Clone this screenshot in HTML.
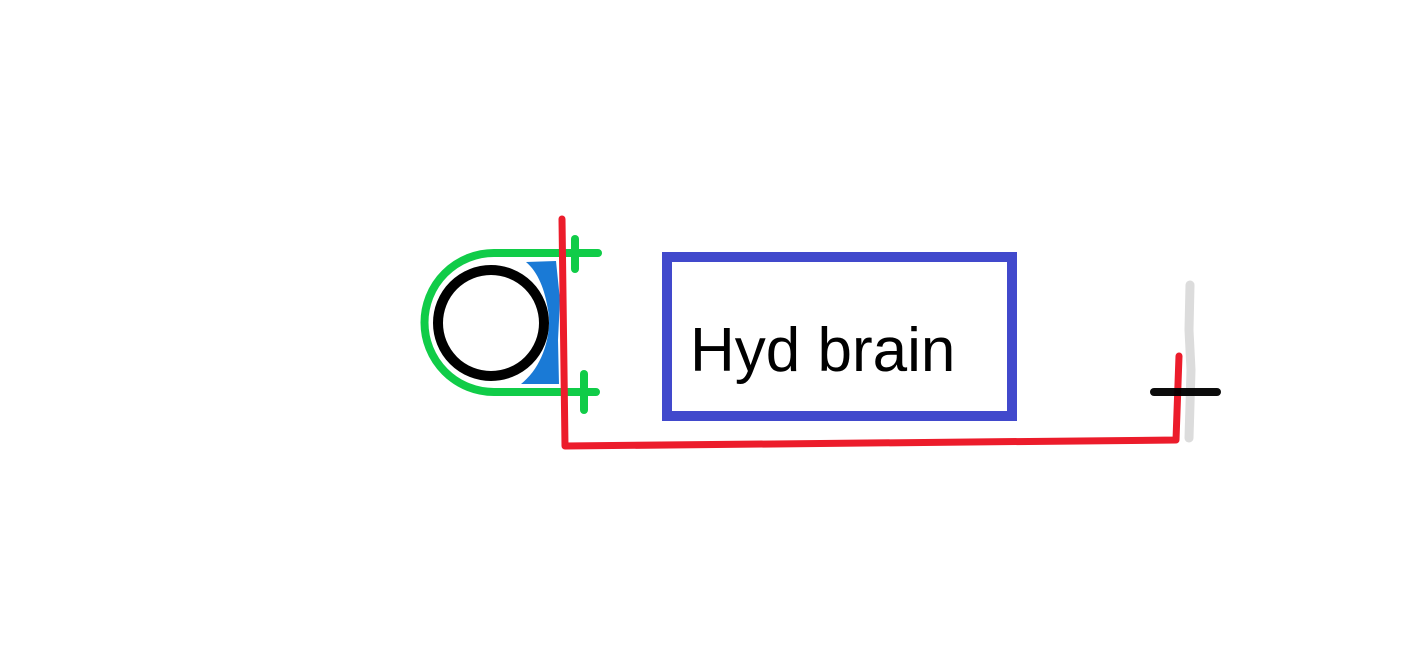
<!DOCTYPE html>
<html><head><meta charset="utf-8"><style>
html,body{margin:0;padding:0;background:#fff;}
svg{display:block;}
</style></head><body>
<svg width="1416" height="672" viewBox="0 0 1416 672" xmlns="http://www.w3.org/2000/svg">
<rect width="1416" height="672" fill="#fff"/>
<!-- gray line -->
<path d="M1190 285 L1189 330 L1191 370 L1189 438" stroke="#dcdcdc" stroke-width="9" fill="none" stroke-linecap="round"/>
<!-- blue fill -->
<path d="M526 262 L556 261 L560 300 L558 340 L559 384 L521 384 C545 365 552 330 548 310 C545 290 538 272 526 262 Z" fill="#1a7ad6"/>
<!-- green -->
<path d="M598 253 L494 253 A69 69 0 0 0 494 392 L596 392" stroke="#10cc48" stroke-width="8" fill="none" stroke-linecap="round"/>
<line x1="575" y1="239" x2="575" y2="269" stroke="#10cc48" stroke-width="8" stroke-linecap="round"/>
<line x1="584" y1="374" x2="584" y2="410" stroke="#10cc48" stroke-width="8" stroke-linecap="round"/>
<!-- black circle -->
<circle cx="491" cy="323" r="53" stroke="#000" stroke-width="10" fill="none"/>
<!-- red -->
<path d="M562 219 L565 446 L1176 440 L1179 356" stroke="#ec1c2b" stroke-width="7" fill="none" stroke-linecap="round" stroke-linejoin="round"/>
<!-- black horizontal -->
<line x1="1154" y1="392" x2="1217" y2="392" stroke="#000" stroke-width="8" stroke-linecap="round" opacity="0.95"/>
<!-- box -->
<rect x="667" y="257" width="345" height="159" stroke="#4149cc" stroke-width="10" fill="none"/>
<text x="690" y="371" font-family="Liberation Sans, sans-serif" font-size="62" fill="#000">Hyd brain</text>
</svg>
</body></html>
